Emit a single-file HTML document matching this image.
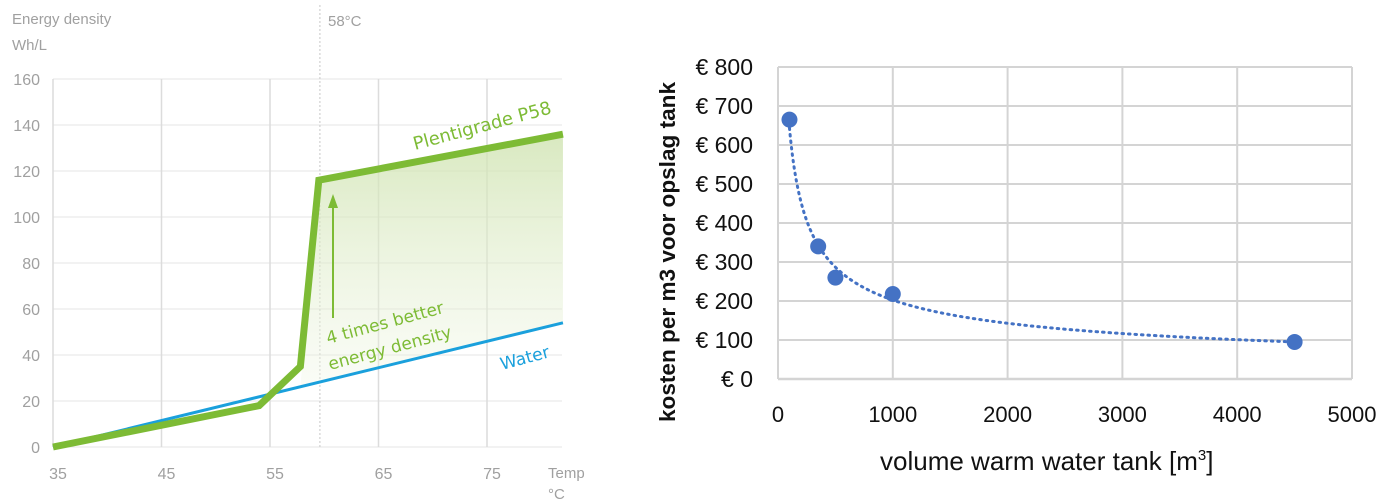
<!DOCTYPE html>
<html><head><meta charset="utf-8"><style>
html,body{margin:0;padding:0;background:#fff;width:1386px;height:504px;overflow:hidden}
svg{display:block}
</style></head><body>
<svg id="s" width="1386" height="504" font-family="Liberation Sans, sans-serif">
<defs><linearGradient id="g" x1="0" y1="0" x2="0" y2="1"><stop offset="0" stop-color="#cfe3b0" stop-opacity="0.8"/><stop offset="1" stop-color="#eef5e2" stop-opacity="0.3"/></linearGradient></defs>
<g id="left"></g>
<g id="right"></g>
</svg>
<script>
// Left chart data
const tempTicks=[35,45,55,65,75];
const densityTicks=[0,20,40,60,80,100,120,140,160];
const plentiX=[35,54,57.8,59.5,82];
const plentiY=[0,18,35,116,136];
const waterX=[35,82];
const waterY=[0,54];
const markerTemp=59.6;
// Right chart data
const volumeTicks=[0,1000,2000,3000,4000,5000];
const costTicks=[0,100,200,300,400,500,600,700,800];
const volumes=[100,350,500,1000,4500];
const costs=[665,340,260,218,95];

const NS='http://www.w3.org/2000/svg';
function mk(p,t,a){const e=document.createElementNS(NS,t);for(const k in a)e.setAttribute(k,a[k]);p.appendChild(e);return e;}
const L=document.getElementById('left'),R=document.getElementById('right');
const lx=v=>53+(v-35)*10.85, ly=v=>447-v*2.3;
densityTicks.forEach(v=>{let e=mk(L,'line',{x1:53,x2:562,y1:ly(v),y2:ly(v),stroke:'#e4e4e4','stroke-width':1});

let t=mk(L,'text',{x:40,y:ly(v)+6,'text-anchor':'end','font-size':16,fill:'#a0a0a0'});t.textContent=v;
});
mk(L,'line',{x1:53,x2:53,y1:ly(160),y2:ly(0),stroke:'#e0e0e0'});
tempTicks.forEach(v=>{let e=mk(L,'line',{x1:lx(v),x2:lx(v),y1:ly(160),y2:ly(0),stroke:'#dcdcdc','stroke-width':1.5});

let t=mk(L,'text',{x:lx(v)+5,y:479,'text-anchor':'middle','font-size':16,fill:'#a0a0a0'});t.textContent=v;
});
let ml=mk(L,'line',{x1:lx(markerTemp),x2:lx(markerTemp),y1:5,y2:ly(0),stroke:'#c8c8c8','stroke-dasharray':'2 2'});

[['Energy density',12,24],['Wh/L',12,50],['58°C',328,26],['Temp',548,478],['°C',548,499]].forEach(([s,x,y])=>{let t=mk(L,'text',{x:x,y:y,'font-size':15,fill:'#a0a0a0'});t.textContent=s;
});
const i3=3;const wy=x=>waterY[0]+(waterY[1]-waterY[0])*(x-waterX[0])/(waterX[1]-waterX[0]);
let fp=`M${lx(plentiX[i3])},${ly(plentiY[i3])} L${lx(plentiX[4])},${ly(plentiY[4])} L${lx(plentiX[4])},${ly(wy(plentiX[4]))} L${lx(plentiX[2])},${ly(wy(plentiX[2]))} Z`;
let fa=mk(L,'path',{d:fp,fill:'url(#g)'});
let w=mk(L,'polyline',{points:waterX.map((x,i)=>lx(x)+','+ly(waterY[i])).join(' '),fill:'none',stroke:'#1aa0dc','stroke-width':3});

let p=mk(L,'polyline',{points:plentiX.map((x,i)=>lx(x)+','+ly(plentiY[i])).join(' '),fill:'none',stroke:'#7dbb35','stroke-width':7,'stroke-linejoin':'miter'});

let ar=mk(L,'line',{x1:333,x2:333,y1:318,y2:205,stroke:'#7dbb35','stroke-width':2});
mk(L,'path',{d:'M328,208 L333,194 L338,208 Z',fill:'#7dbb35'});
function rt(s,x,y,ang,fill,size,name){let t=mk(L,'text',{x:x,y:y,'font-size':size,fill:fill,transform:`rotate(${ang} ${x} ${y})`,'font-family':'DejaVu Sans, sans-serif'});t.textContent=s;
}
rt('Plentigrade P58',415,150,-15,'#7dbb35',18,'plentigrade-label');
rt('4 times better',328,344,-15,'#7dbb35',17,'annotation-line1');
rt('energy density',330,370,-15,'#7dbb35',17,'annotation-line2');
rt('Water',502,370,-15,'#1aa0dc',17,'water-label');

// Right chart
const rx=v=>778+v/5000*574, ry=v=>379-v/800*312;
costTicks.forEach(v=>{let e=mk(R,'line',{x1:rx(0),x2:rx(5000),y1:ry(v),y2:ry(v),stroke:'#d4d4d4','stroke-width':v==0?2.5:2});

let t=mk(R,'text',{x:753,y:ry(v)+8,'text-anchor':'end','font-size':23,fill:'#111'});t.textContent='€ '+v;
});
volumeTicks.forEach(v=>{let e=mk(R,'line',{x1:rx(v),x2:rx(v),y1:ry(800),y2:ry(0),stroke:'#d4d4d4','stroke-width':2});

let t=mk(R,'text',{x:rx(v),y:422,'text-anchor':'middle','font-size':22,fill:'#111'});t.textContent=v;
});
let n=volumes.length,sx=0,sy=0,sxx=0,sxy=0;
volumes.forEach((x,i)=>{let a=Math.log(x),b=Math.log(costs[i]);sx+=a;sy+=b;sxx+=a*a;sxy+=a*b;});
let b=(n*sxy-sx*sy)/(n*sxx-sx*sx),a=Math.exp((sy-b*sx)/n);
let pts=[],x0=volumes[0],x1=volumes[n-1];
for(let k=0;k<=120;k++){let x=x0*Math.pow(x1/x0,k/120);pts.push(rx(x)+','+ry(a*Math.pow(x,b)));}
let tl=mk(R,'polyline',{points:pts.join(' '),fill:'none',stroke:'#4472c4','stroke-width':3,'stroke-dasharray':'1.5 5','stroke-linecap':'round'});

volumes.forEach((x,i)=>{let c=mk(R,'circle',{cx:rx(x),cy:ry(costs[i]),r:8,fill:'#4472c4'});
});
let yt=mk(R,'text',{x:675,y:252,'text-anchor':'middle','font-size':22,'font-weight':'bold',fill:'#111',textLength:340,lengthAdjust:'spacingAndGlyphs',transform:'rotate(-90 675 252)'});
yt.textContent='kosten per m3 voor opslag tank';
let xt=mk(R,'text',{x:880,y:470,'font-size':26,fill:'#111'});
xt.innerHTML='volume warm water tank [m<tspan dy="-10" font-size="15">3</tspan><tspan dy="10">]</tspan>';

</script>
</body></html>
